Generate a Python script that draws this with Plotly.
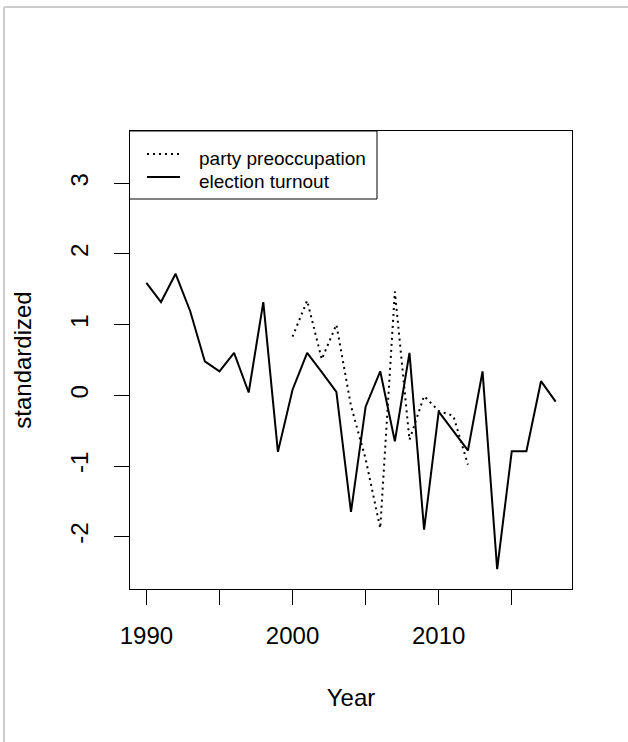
import plotly.graph_objects as go

# Annual series, standardized (z-scores)
years = list(range(1990, 2019))
turnout = [1.59, 1.32, 1.72, 1.19, 0.48, 0.34, 0.60, 0.04, 1.32, -0.80,
           0.08, 0.60, 0.33, 0.05, -1.65, -0.16, 0.34, -0.65, 0.60, -1.90,
           -0.23, -0.51, -0.78, 0.34, -2.46, -0.79, -0.79, 0.20, -0.09]

party_years = list(range(2000, 2013))
party = [0.83, 1.34, 0.51, 1.00, -0.15, -0.90, -1.88, 1.47, -0.63, -0.01,
         -0.22, -0.29, -0.98]

x_ticks = [1990, 1995, 2000, 2005, 2010, 2015]
x_tick_labels = ["1990", "", "2000", "", "2010", ""]
y_ticks = [-2, -1, 0, 1, 2, 3]
y_tick_labels = ["-2", "-1", "0", "1", "2", "3"]

series_names = ["party preoccupation", "election turnout"]

FONT = "Liberation Sans, Arial, sans-serif"
DOT = "2px,4px"

fig = go.Figure()
fig.add_trace(go.Scatter(
    x=party_years, y=party, mode="lines", name=series_names[0],
    line=dict(color="black", width=2, dash=DOT), showlegend=False,
))
fig.add_trace(go.Scatter(
    x=years, y=turnout, mode="lines", name=series_names[1],
    line=dict(color="black", width=2), showlegend=False,
))

# plot region in pixels
L, R, T, B = 130, 572, 131, 589
W, H = 628, 742
pw, ph = R - L, B - T


def px(x):
    return (x - L) / pw


def py(y):
    return (B - y) / ph


axis_common = dict(
    showgrid=False, zeroline=False, showline=True, linecolor="black",
    linewidth=1, mirror=True, ticks="outside", ticklen=15, tickwidth=1,
    tickcolor="black", tickfont=dict(family=FONT, size=24, color="black"),
)

# boxed key in the top-left corner of the plot
key_box = dict(type="rect", xref="paper", yref="paper",
               x0=px(129.5), x1=px(377), y0=py(131), y1=py(199),
               line=dict(color="black", width=1), fillcolor="white", layer="above")
key_rows = [(154, DOT), (177, None)]
key_text_y = [158, 181]
shapes = [key_box]
annotations = []
for (row_y, dash), name, ty in zip(key_rows, series_names, key_text_y):
    line = dict(color="black", width=2)
    if dash:
        line["dash"] = dash
    shapes.append(dict(type="line", xref="paper", yref="paper",
                       x0=px(147), x1=px(180), y0=py(row_y), y1=py(row_y),
                       line=line, layer="above"))
    annotations.append(dict(text=name, xref="paper", yref="paper",
                            x=px(197), y=py(ty), xanchor="left", yanchor="middle",
                            showarrow=False,
                            font=dict(family=FONT, size=19, color="black")))

# thin grey window frame, left and top edges
shapes += [
    dict(type="line", xref="paper", yref="paper",
         x0=px(4), x1=px(4), y0=py(7), y1=py(H),
         line=dict(color="#cccccc", width=2)),
    dict(type="line", xref="paper", yref="paper",
         x0=px(4), x1=px(W), y0=py(7), y1=py(7),
         line=dict(color="#cccccc", width=2)),
]

fig.update_layout(
    width=W, height=H,
    margin=dict(l=L, r=W - R, t=T, b=H - B, autoexpand=False),
    paper_bgcolor="white", plot_bgcolor="white",
    font=dict(family=FONT, color="black"),
    xaxis=dict(
        range=[1988.88, 2019.12], tickmode="array", tickvals=x_ticks,
        ticktext=x_tick_labels, ticklabelstandoff=10,
        title=dict(text="Year", font=dict(family=FONT, size=24), standoff=41),
        **axis_common,
    ),
    yaxis=dict(
        range=[-2.74, 3.74], tickmode="array", tickvals=y_ticks,
        ticktext=y_tick_labels, tickangle=-90, ticklabelstandoff=16,
        title=dict(text="standardized", font=dict(family=FONT, size=24), standoff=28),
        **axis_common,
    ),
    showlegend=False,
    shapes=shapes,
    annotations=annotations,
)

fig.write_html("out.html")
